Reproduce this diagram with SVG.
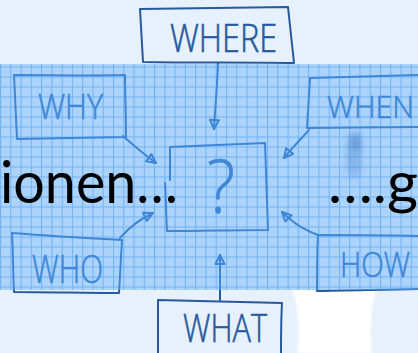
<svg xmlns="http://www.w3.org/2000/svg" width="418" height="353" viewBox="0 0 418 353">
<defs>
<style>
.ink{fill:none;stroke:url(#inkg);stroke-width:2;stroke-linecap:round;stroke-linejoin:round}
.lbl{font-family:"Open Sans","DejaVu Sans",sans-serif;font-weight:300;fill:url(#inkg);stroke:url(#inkg);stroke-width:0.6}
.big{font-family:Lato,"Liberation Sans",sans-serif;font-size:58px;fill:#000}
.head{fill:none;stroke:#3f86d6;stroke-width:2;stroke-linejoin:round}
</style>
<linearGradient id="inkg" gradientUnits="userSpaceOnUse" x1="0" y1="0" x2="0" y2="353">
<stop offset="0" stop-color="#27599f"/>
<stop offset="0.1813" stop-color="#27599f"/>
<stop offset="0.1813" stop-color="#3f86d6"/>
<stop offset="0.8215" stop-color="#3f86d6"/>
<stop offset="0.8215" stop-color="#27599f"/>
<stop offset="1" stop-color="#27599f"/>
</linearGradient>
<pattern id="grid" patternUnits="userSpaceOnUse" x="0" y="2" width="10.27" height="10">
<rect width="10.27" height="10" fill="#acd3fb"/>
<path d="M0.5,0V10M0,5H10.27" stroke="#70b3f5" stroke-width="1.1"/>
</pattern>
<filter id="blur" x="-80%" y="-50%" width="260%" height="200%"><feGaussianBlur stdDeviation="3.5"/></filter>
<filter id="soft" x="-10%" y="-10%" width="120%" height="120%"><feGaussianBlur stdDeviation="1.2"/></filter>
<marker id="ah" markerUnits="userSpaceOnUse" markerWidth="16" markerHeight="16" refX="11" refY="6" orient="auto">
<path class="head" d="M2,1.5 L11,6 L2,10.5 Z"/>
</marker>
</defs>
<rect width="418" height="353" fill="#e7f1fc"/>
<path d="M293,290 C299,312 300,332 297,353 L372,353 C369,330 371,306 376,290 Z" fill="#ffffff" filter="url(#soft)"/>
<rect x="0" y="64" width="418" height="226" fill="url(#grid)"/>
<ellipse cx="354" cy="155" rx="7" ry="24" fill="#3a78c6" opacity="0.35" filter="url(#blur)"/>
<ellipse cx="356" cy="142" rx="4" ry="9" fill="#2a62ae" opacity="0.4" filter="url(#blur)"/>
<g id="connectors">
<path class="ink" d="M218,63 C217,90 215,110 214,129" marker-end="url(#ah)"/>
<path class="ink" d="M123,136 C133,145 145,155 156,163" marker-end="url(#ah)"/>
<path class="ink" d="M309,130 C301,139 292,148 284,158" marker-end="url(#ah)"/>
<path class="ink" d="M120,238 C127,230 138,220 153,213" marker-end="url(#ah)"/>
<path class="ink" d="M318,235 C307,231 298,226 290,219 C286,216 284,214 282,212" marker-end="url(#ah)"/>
<path class="ink" d="M220,300 C220,285 220,270 220,255" marker-end="url(#ah)"/>
</g>
<g id="where">
<path class="ink" d="M140,9 C190,8 240,8 288,7 C290,25 292,45 294,63 C245,62 195,63 143,62 C142,45 141,28 140,9 Z"/>
<text class="lbl" x="170" y="52" font-size="38" textLength="107" lengthAdjust="spacingAndGlyphs">WHERE</text>
</g>
<g id="why">
<path class="ink" d="M14,75 C50,75 90,76 125,75 C125,95 126,115 126,137 C90,138 55,138 17,139 C16,118 15,96 14,75 Z"/>
<text class="lbl" x="38" y="119" font-size="34" textLength="65" lengthAdjust="spacingAndGlyphs">WHY</text>
</g>
<g id="when">
<path class="ink" d="M419,75 C380,76 345,77 310,78 C309,95 308,112 307,128 C345,128 380,127 419,127"/>
<text class="lbl" x="327" y="118" font-size="32" textLength="87" lengthAdjust="spacingAndGlyphs">WHEN</text>
</g>
<g id="question">
<path class="ink" d="M170,180 C170,168 170,158 170,147 C200,146 235,144 265,143 C266,172 267,200 268,230 C235,230 200,231 167,231 C166,215 166,198 165,183"/>
<text class="lbl" x="221" y="213" font-size="74" text-anchor="middle" textLength="28" lengthAdjust="spacingAndGlyphs">?</text>
</g>
<g id="who">
<path class="ink" d="M12,233 C50,236 85,238 122,240 C121,258 120,275 119,293 C85,293 50,292 14,292 C13,272 13,252 12,233 Z"/>
<text class="lbl" x="32" y="283" font-size="38" textLength="71" lengthAdjust="spacingAndGlyphs">WHO</text>
</g>
<g id="how">
<path class="ink" d="M419,236 C385,235 350,235 318,235 C317,253 317,272 317,291 C350,290 385,290 419,289"/>
<text class="lbl" x="340" y="277" font-size="35" textLength="70" lengthAdjust="spacingAndGlyphs">HOW</text>
</g>
<g id="what">
<path class="ink" d="M158,354 C158,335 158,318 158,300 C200,301 240,302 282,303 C281,320 281,337 281,354"/>
<text class="lbl" x="183" y="342" font-size="38" textLength="84" lengthAdjust="spacingAndGlyphs">WHAT</text>
</g>
<g id="caption">
<text class="big" x="0" y="203" textLength="178" lengthAdjust="spacingAndGlyphs">ionen…</text>
<text class="big" x="328" y="203" textLength="90" lengthAdjust="spacingAndGlyphs">….g</text>
</g>
</svg>
